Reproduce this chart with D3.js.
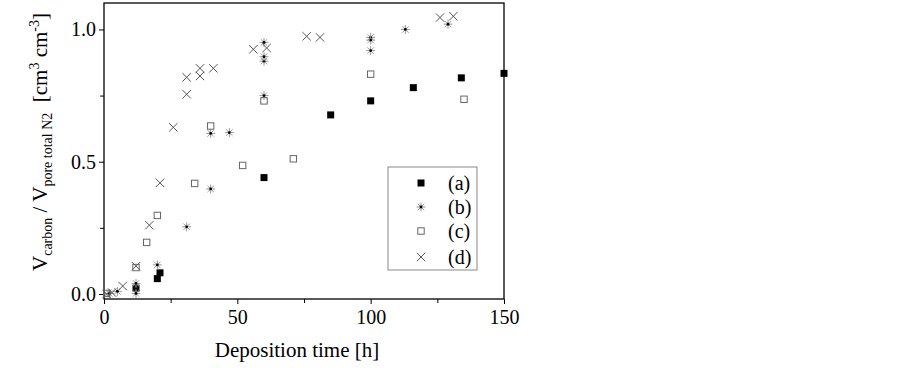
<!DOCTYPE html>
<html><head><meta charset="utf-8">
<script src="https://cdn.jsdelivr.net/npm/d3@7"></script>
<style>body{margin:0;background:#fff}svg{display:block}text{font-family:"Liberation Serif","Times New Roman",serif}</style>
</head><body>
<script>
// Data (deposition time [h], V_carbon / V_pore)
const seriesA = [[12,0.022],[20,0.058],[21,0.080],[60,0.440],[85,0.677],[100,0.730],[116,0.780],[134,0.817],[150,0.834]];
const seriesB = [[2,0.002],[5,0.010],[12,0.002],[12,0.040],[20,0.110],[31,0.254],[40,0.397],[40,0.607],[47,0.610],[60,0.750],[60,0.880],[60,0.897],[60,0.951],[100,0.970],[100,0.960],[100,0.920],[113,1.000],[129,1.020]];
const seriesC = [[1,0.002],[12,0.100],[16,0.195],[20,0.297],[34,0.418],[40,0.635],[52,0.486],[60,0.730],[71,0.511],[100,0.831],[135,0.736]];
const seriesD = [[1,0.000],[3,0.005],[7,0.030],[12,0.105],[17,0.260],[21,0.420],[26,0.630],[31,0.755],[31,0.819],[36,0.824],[36,0.853],[41,0.853],[56,0.925],[61,0.930],[76,0.974],[81,0.970],[126,1.045],[131,1.050]];
const legendLabels = ["(a)","(b)","(c)","(d)"];
const xTicks = [0,50,100,150];
const xMinor = [25,75,125];
const yTicks = [0.0,0.5,1.0];
const yMinor = [0.25,0.75];

const W=903,H=368;
const svg=d3.select("body").append("svg").attr("width",W).attr("height",H);
const x=d3.scaleLinear().domain([0,150]).range([104,504]);
const y=d3.scaleLinear().domain([-0.019,1.1]).range([299,3]);

// frame
svg.append("rect").attr("x",104).attr("y",3).attr("width",400).attr("height",296)
  .attr("fill","none").attr("stroke","#000").attr("stroke-width",1.3);

// x axis
const gx=svg.append("g").attr("transform","translate(0,299)");
gx.call(d3.axisBottom(x).tickValues(xTicks).tickFormat(d3.format("d")).tickSize(5).tickPadding(6))
  .call(g=>g.select(".domain").remove());
gx.selectAll("text").attr("font-size",20).attr("fill","#000").attr("font-family","Liberation Serif");
gx.selectAll("line").attr("stroke","#000");
const gxm=svg.append("g").attr("transform","translate(0,299)");
gxm.call(d3.axisBottom(x).tickValues(xMinor).tickFormat("").tickSize(4)).call(g=>g.select(".domain").remove());

// y axis
const gy=svg.append("g").attr("transform","translate(104,0)");
gy.call(d3.axisLeft(y).tickValues(yTicks).tickFormat(d3.format(".1f")).tickSize(5).tickPadding(3))
  .call(g=>g.select(".domain").remove());
gy.selectAll("text").attr("font-size",20).attr("fill","#000").attr("font-family","Liberation Serif");
const gym=svg.append("g").attr("transform","translate(104,0)");
gym.call(d3.axisLeft(y).tickValues(yMinor).tickFormat("").tickSize(4)).call(g=>g.select(".domain").remove());

// axis titles
svg.append("text").attr("x",297).attr("y",357).attr("text-anchor","middle").attr("font-size",21).text("Deposition time [h]");
const yt=svg.append("text").attr("transform","translate(47,142) rotate(-90)").attr("text-anchor","middle").attr("font-size",21);
yt.append("tspan").text("V");
yt.append("tspan").attr("font-size",14).attr("dy",5).text("carbon");
yt.append("tspan").attr("dy",-5).text(" / V");
yt.append("tspan").attr("font-size",14).attr("dy",5).text("pore total N2");
yt.append("tspan").attr("dy",-5).attr("xml:space","preserve").text("\u00A0\u00A0[cm");
yt.append("tspan").attr("font-size",14).attr("dy",-8).text("3");
yt.append("tspan").attr("dy",8).text(" cm");
yt.append("tspan").attr("font-size",14).attr("dy",-8).text("-3");
yt.append("tspan").attr("dy",8).text("]");

// marker drawers
function mA(g){g.append("rect").attr("x",-3.5).attr("y",-3.5).attr("width",7).attr("height",7).attr("fill","#000");}
function mB(g){const r=4.5,s=r*0.72;
  [[-r,0,r,0],[0,-r,0,r],[-s,-s,s,s],[-s,s,s,-s]].forEach(l=>g.append("line").attr("x1",l[0]).attr("y1",l[1]).attr("x2",l[2]).attr("y2",l[3]).attr("stroke","#999").attr("stroke-width",1));
  g.append("circle").attr("r",1.4).attr("fill","#000");}
function mC(g){g.append("rect").attr("x",-3.2).attr("y",-3.2).attr("width",6.4).attr("height",6.4).attr("fill","none").attr("stroke","#666").attr("stroke-width",1);}
function mD(g){const r=4.2;
  [[-r,-r,r,r],[-r,r,r,-r]].forEach(l=>g.append("line").attr("x1",l[0]).attr("y1",l[1]).attr("x2",l[2]).attr("y2",l[3]).attr("stroke","#555").attr("stroke-width",1));}

const series=[[seriesA,mA],[seriesB,mB],[seriesC,mC],[seriesD,mD]];
series.forEach(([data,fn])=>{
  svg.append("g").selectAll("g").data(data).join("g")
    .attr("transform",d=>`translate(${x(d[0])},${y(d[1])})`).each(function(){fn(d3.select(this));});
});

// legend
const lg=svg.append("g");
lg.append("rect").attr("x",388).attr("y",167).attr("width",89).attr("height",103).attr("fill","#fff").attr("stroke","#888").attr("stroke-width",1);
const rowsY=[183,207,231,257];
legendLabels.forEach((lab,i)=>{
  const g=lg.append("g").attr("transform",`translate(421,${rowsY[i]})`);
  series[i][1](g);
  lg.append("text").attr("x",448).attr("y",rowsY[i]+7).attr("font-size",20).text(lab);
});
</script>
</body></html>
